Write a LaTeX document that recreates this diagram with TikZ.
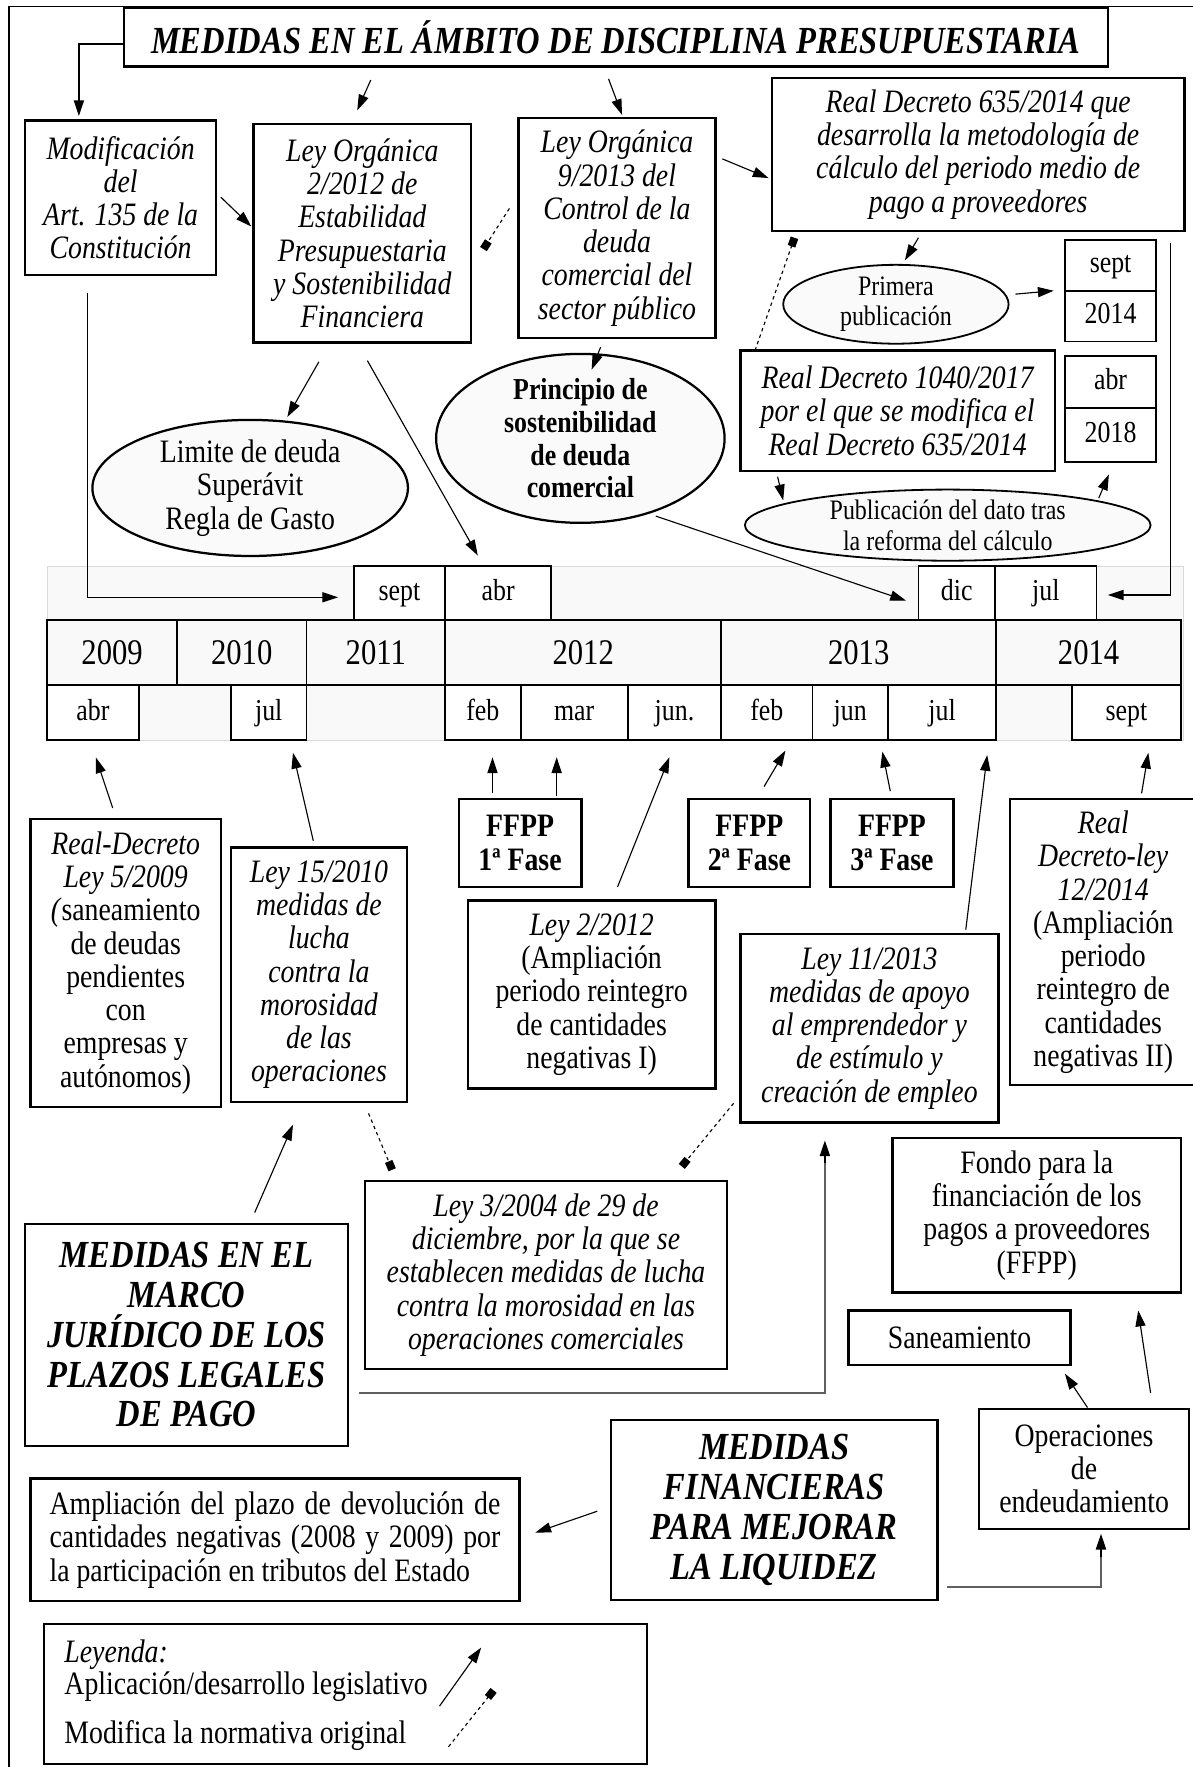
\documentclass[tikz,border=0pt]{standalone}
\usepackage{fontspec}
\setmainfont{Liberation Serif}[FakeStretch=0.85]
\usetikzlibrary{arrows.meta,shapes.geometric}
\newcommand\fb{\fontsize{29}{29.5}\selectfont}
\newcommand\fy{\fontsize{32}{34}\selectfont}
\newcommand\fm{\fontsize{27}{29}\selectfont}
\newcommand\fe{\fontsize{25}{27}\selectfont}
\newcommand\fh{\fontsize{34}{35.3}\selectfont}
\newcommand\fp{\fontsize{27}{29}\selectfont}
\tikzset{
  bx/.style={draw, line width=2pt, inner sep=0pt, align=center, font=\fb},
  el/.style={ellipse, draw, line width=1.6pt, fill=gray!4, inner sep=0pt, align=center},
  cell/.style={draw, line width=1.6pt, inner sep=0pt, font=\fm, fill=white, text height=19pt, text depth=6pt},
  ycell/.style={draw, line width=1.6pt, inner sep=0pt, font=\fy},
  arr/.style={line width=1pt, -{Triangle[length=14pt,width=9pt]}},
  modif/.style={line width=1pt, dashed, -{Square[length=8pt,width=7pt]}},
  gline/.style={line width=2pt, draw=gray!75!black},
  legtxt/.style={anchor=west, inner sep=0pt, font=\fb}
}
\begin{document}
\begin{tikzpicture}[x=1pt,y=-1pt]
\useasboundingbox (0,0) rectangle (1058,1568);
% frame
\draw[line width=1.3pt] (8,1572) -- (8,6) -- (1062,6);

% ---------- top part ----------
\node[bx, minimum width=873pt, minimum height=52pt, font=\fh\bfseries\itshape] (title) at (546.5,33) {MEDIDAS EN EL ÁMBITO DE DISCIPLINA PRESUPUESTARIA};

\node[bx, minimum width=170pt, minimum height=137pt, font=\fb\itshape] (modif) at (107,175.5) {Modificación\\del\\Art. 135 de la\\Constitución};
\node[bx, minimum width=193pt, minimum height=194pt, font=\fb\itshape] (lo2) at (321.5,207) {Ley Orgánica\\2/2012 de\\Estabilidad\\Presupuestaria\\y Sostenibilidad\\Financiera};
\node[bx, minimum width=175pt, minimum height=195pt, font=\fb\itshape] (lo9) at (547.5,202.5) {Ley Orgánica\\9/2013 del\\Control de la\\deuda\\comercial del\\sector público};
\node[bx, minimum width=366pt, minimum height=136pt, font=\fb\itshape] (rd635) at (868,137) {Real Decreto 635/2014 que\\desarrolla la metodología de\\cálculo del periodo medio de\\pago a proveedores};

\node[el, minimum width=200pt, minimum height=70pt, font=\fe] (prim) at (795,270) {Primera\\publicación};
\node[cell, minimum width=81pt, minimum height=45pt] (s14a) at (985.5,235.5) {sept};
\node[cell, minimum width=81pt, minimum height=45pt] (s14b) at (985.5,280.5) {2014};

\node[bx, minimum width=279pt, minimum height=107pt, font=\fb\itshape] (rd1040) at (796.5,364.5) {Real Decreto 1040/2017\\por el que se modifica el\\Real Decreto 635/2014};
\node[cell, minimum width=81pt, minimum height=46pt] (a18a) at (985.5,339) {abr};
\node[cell, minimum width=81pt, minimum height=48pt] (a18b) at (985.5,386) {2018};

\node[el, minimum width=360pt, minimum height=62pt, font=\fe] (publ) at (841,466) {Publicación del dato tras\\la reforma del cálculo};
\node[el, minimum width=280pt, minimum height=120pt, font=\fb, line width=2pt] (lim) at (222,433) {Limite de deuda\\Superávit\\Regla de Gasto};
\node[el, minimum width=256pt, minimum height=148pt, font=\fp\bfseries, line width=2pt] (princ) at (515,389) {Principio de\\sostenibilidad\\de deuda\\comercial};

% ---------- timeline ----------
\fill[gray!5] (42,503) rectangle (1050,657);
\draw[gray!30, line width=0.8pt] (42,503) rectangle (1050,657);
\node[cell, minimum width=81pt, minimum height=48pt] (tsept) at (354.5,526) {sept};
\node[cell, minimum width=94pt, minimum height=48pt] (tabr) at (442,526) {abr};
\node[cell, minimum width=68pt, minimum height=48pt] (tdic) at (849,526) {dic};
\node[cell, minimum width=90pt, minimum height=48pt] (tjul) at (928,526) {jul};

\node[ycell, minimum width=115pt, minimum height=58pt] (y09) at (99.5,579) {2009};
\node[ycell, minimum width=115pt, minimum height=58pt] (y10) at (214.5,579) {2010};
\node[ycell, minimum width=123pt, minimum height=58pt] (y11) at (333.5,579) {2011};
\node[ycell, minimum width=245pt, minimum height=58pt] (y12) at (517.5,579) {2012};
\node[ycell, minimum width=244pt, minimum height=58pt] (y13) at (762,579) {2013};
\node[ycell, minimum width=164pt, minimum height=58pt] (y14) at (966,579) {2014};

\node[cell, minimum width=81pt, minimum height=49pt] (m1) at (82.5,632.5) {abr};
\node[cell, minimum width=67pt, minimum height=49pt] (m2) at (238.5,632.5) {jul};
\node[cell, minimum width=67pt, minimum height=49pt] (m3) at (428.5,632.5) {feb};
\node[cell, minimum width=95pt, minimum height=49pt] (m4) at (509.5,632.5) {mar};
\node[cell, minimum width=83pt, minimum height=49pt] (m5) at (598.5,632.5) {jun.};
\node[cell, minimum width=81pt, minimum height=49pt] (m6) at (680.5,632.5) {feb};
\node[cell, minimum width=67pt, minimum height=49pt] (m7) at (754.5,632.5) {jun};
\node[cell, minimum width=96pt, minimum height=49pt] (m8) at (836,632.5) {jul};
\node[cell, minimum width=97pt, minimum height=49pt] (m9) at (999.5,632.5) {sept};

% ---------- lower boxes ----------
\node[bx, minimum width=169pt, minimum height=255pt] (rd5) at (111.5,854.5) {\textit{Real-Decreto}\\\textit{Ley 5/2009}\\\textit{(}saneamiento\\de deudas\\pendientes\\con\\empresas y\\autónomos)};
\node[bx, minimum width=156pt, minimum height=226pt, font=\fb\itshape] (l15) at (283,865) {Ley 15/2010\\medidas de\\lucha\\contra la\\morosidad\\de las\\operaciones};
\node[bx, minimum width=109pt, minimum height=78pt, font=\fb\bfseries] (f1) at (461.5,748) {FFPP\\1ª Fase};
\node[bx, minimum width=108pt, minimum height=78pt, font=\fb\bfseries] (f2) at (665,748) {FFPP\\2ª Fase};
\node[bx, minimum width=109pt, minimum height=78pt, font=\fb\bfseries] (f3) at (791.5,748) {FFPP\\3ª Fase};
\node[bx, minimum width=220pt, minimum height=167pt] (l2) at (525,882.5) {\textit{Ley 2/2012}\\(Ampliación\\periodo reintegro\\de cantidades\\negativas I)};
\node[bx, minimum width=229pt, minimum height=167pt, font=\fb\itshape] (l11) at (771.5,912.5) {Ley 11/2013\\medidas de apoyo\\al emprendedor y\\de estímulo y\\creación de empleo};
\node[bx, minimum width=166pt, minimum height=254pt] (rdl12) at (979,836) {\textit{Real}\\\textit{Decreto-ley}\\\textit{12/2014}\\(Ampliación\\periodo\\reintegro de\\cantidades\\negativas II)};

\node[bx, minimum width=321pt, minimum height=167pt, font=\fb\itshape] (l3) at (484.5,1131.5) {Ley 3/2004 de 29 de\\diciembre, por la que se\\establecen medidas de lucha\\contra la morosidad en las\\operaciones comerciales};
\node[bx, minimum width=287pt, minimum height=197pt, font=\fh\bfseries\itshape] (marco) at (165.5,1184.5) {MEDIDAS EN EL\\MARCO\\JURÍDICO DE LOS\\PLAZOS LEGALES\\DE PAGO};
\node[bx, minimum width=256pt, minimum height=137pt] (fondo) at (920,1078.5) {Fondo para la\\financiación de los\\pagos a proveedores\\(FFPP)};
\node[bx, minimum width=197pt, minimum height=48pt] (san) at (851.5,1187) {Saneamiento};
\node[bx, minimum width=186pt, minimum height=107pt] (oper) at (962,1303.5) {Operaciones\\de\\endeudamiento};
\node[bx, minimum width=290pt, minimum height=160pt, font=\fh\bfseries\itshape] (fin) at (687,1340) {MEDIDAS\\FINANCIERAS\\PARA MEJORAR\\LA LIQUIDEZ};
\node[bx, minimum width=434pt, minimum height=109pt, align=left] (ampl) at (244,1366.5) {\makebox[400pt][s]{Ampliación del plazo de devolución de}\\\makebox[400pt][s]{cantidades negativas (2008 y 2009) por}\\\makebox[400pt][l]{la participación en tributos del Estado}};

% legend
\node[bx, minimum width=535pt, minimum height=124pt] (leg) at (306.5,1503) {};
\node[legtxt, font=\fb\itshape] (legt) at (57,1468) {Leyenda:};
\node[legtxt] (lega) at (57,1497) {Aplicación/desarrollo legislativo};
\node[legtxt] (legm) at (57,1540) {Modifica la normativa original};

% ---------- connectors ----------
\coordinate (c1) at (110,39);
\draw[arr, line width=1.3pt] (c1) -| (70,103);
\draw[arr] (329,71) -- (317,98);
\draw[arr] (540,70) -- (552,102);
\draw[arr] (196,175) -- (223,201);
\draw[modif] (452,185) -- (429,221);
\draw[arr] (641,141) -- (682,158);
\draw[modif] (670,311) -- (705,211);
\draw[arr] (815,211) -- (803,231);
\draw[arr] (901,261) -- (935,258);
\draw[arr] (1039,216) -- (1039,528) -- (983,528);
\draw[arr] (690,423) -- (695,444);
\draw[arr] (975,442) -- (984,421);
\draw[arr] (283,321) -- (255,370);
\draw[arr] (326,320) -- (424,493);
\draw[arr] (533,308) -- (525,328);
\draw[arr] (582,458) -- (804,533);
\draw[arr] (78,260) -- (78,530) -- (300,530);

\draw[arr] (100,717) -- (85,672);
\draw[arr] (278,746) -- (260,668);
\draw[arr] (437,704) -- (437,672);
\draw[arr] (494,706) -- (494,672);
\draw[arr] (548,787) -- (594,672);
\draw[arr] (678,698) -- (697,666);
\draw[arr] (790,702) -- (783,667);
\draw[arr] (857,825) -- (876,670);
\draw[arr] (1013,704) -- (1019,668);

\draw[modif] (327,988) -- (348,1038);
\draw[modif] (651,979) -- (605,1035);
\draw[arr] (226,1076) -- (260,998);
\draw[gline] (319,1236) -- (732,1236) -- (732,1030);
\draw[arr, line width=1.6pt] (732,1032) -- (732,1012);
\draw[arr] (965,1249) -- (945,1219);
\draw[arr] (1021,1236) -- (1010,1163);
\draw[arr] (530,1341) -- (475,1360);
\draw[gline] (840,1408) -- (977,1408) -- (977,1380);
\draw[arr, line width=1.6pt] (977,1382) -- (977,1361);

\draw[arr] (390,1514) -- (427,1462);
\draw[modif] (398,1550) -- (438,1500);
\end{tikzpicture}
\end{document}
